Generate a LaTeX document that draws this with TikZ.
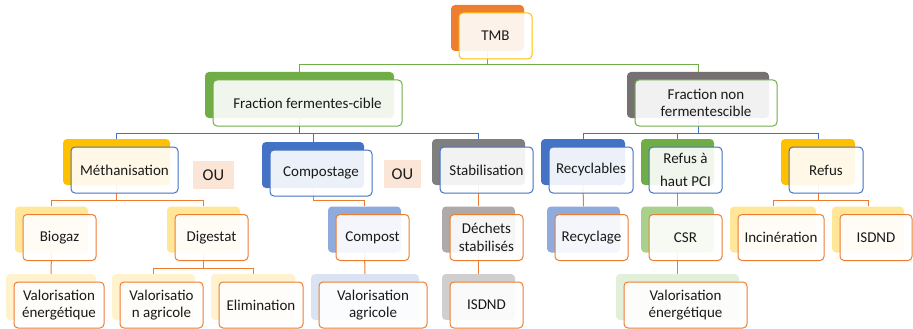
\documentclass[tikz,border=0pt]{standalone}
\usepackage{fontspec}
\setmainfont{Carlito}
\usepackage{xcolor}
\usepackage{tikz}
\usetikzlibrary{backgrounds}
\definecolor{orangeback}{HTML}{ED7D31}
\definecolor{goldback}{HTML}{FFC000}
\definecolor{greenback}{HTML}{70AD47}
\definecolor{blueback}{HTML}{4472C4}
\definecolor{darkgrayback}{HTML}{767171}
\definecolor{grayback}{HTML}{7F7F7F}
\definecolor{midgrayback}{HTML}{AEAAAA}
\definecolor{lightgrayback}{HTML}{D0CECE}
\definecolor{paleyellow}{HTML}{FFE699}
\definecolor{paleryellow}{HTML}{FFF2CC}
\definecolor{paleblue}{HTML}{8FAADC}
\definecolor{palerblue}{HTML}{DAE3F3}
\definecolor{palegreen}{HTML}{A9D18E}
\definecolor{palergreen}{HTML}{E2F0D9}
\definecolor{oucolor}{HTML}{FBE5D6}
\definecolor{labeltext}{HTML}{1A1A1A}

\tikzset{
  backbox/.style={rectangle, rounded corners=4pt, minimum height=46pt, inner sep=0pt},
  frontbox/.style={rectangle, rounded corners=4pt, minimum height=46pt, inner sep=1pt,
    fill=white, fill opacity=0.9, text opacity=1, text=labeltext, line width=1pt, align=center,
    font=\fontsize{15}{17.5}\selectfont},
  oubox/.style={rectangle, fill=oucolor, minimum height=28pt, inner sep=0pt, text=labeltext,
    font=\fontsize{16.5}{19}\selectfont},
  greenlink/.style={draw=greenback, line width=1pt},
  bluelink/.style={draw=blueback, line width=1pt},
  orangelink/.style={draw=orangeback, line width=1pt},
}

\begin{document}
\begin{tikzpicture}[x=1pt, y=-1pt]
\useasboundingbox (0,0) rectangle (913,329);
% level 1
\node[backbox, fill=orangeback, minimum width=73pt] (tmbb) at (487.5,28) {};
\node[frontbox, draw=goldback, minimum width=73pt] (tmb) at (495.5,36) {TMB};
% level 2
\node[backbox, fill=greenback, minimum width=189pt] (ffcb) at (299.5,95) {};
\node[frontbox, draw=greenback, minimum width=189pt] (ffc) at (307.5,103) {Fraction fermentes-cible};
\node[backbox, fill=darkgrayback, minimum width=142pt] (fnfb) at (698,95) {};
\node[frontbox, draw=greenback, minimum width=142pt] (fnf) at (706,103) {Fraction non\\fermentescible};
% level 3
\node[backbox, fill=goldback, minimum width=107pt] (methb) at (116.5,162) {};
\node[frontbox, draw=blueback, minimum width=107pt] (meth) at (124.5,170) {Méthanisation};
\node[backbox, fill=blueback, minimum width=102pt] (compb) at (313,165) {};
\node[frontbox, draw=blueback, minimum width=102pt] (comp) at (321,173) {Compostage};
\node[backbox, fill=grayback, minimum width=93pt] (stabb) at (478.5,162) {};
\node[frontbox, draw=blueback, minimum width=93pt] (stab) at (486.5,170) {Stabilisation};
\node[backbox, fill=blueback, minimum width=84pt] (recyb) at (583,162) {};
\node[frontbox, draw=blueback, minimum width=84pt] (recy) at (591,170) {Recyclables};
\node[backbox, fill=greenback, minimum width=73pt] (pcib) at (677.5,162) {};
\node[frontbox, draw=blueback, minimum width=73pt] (pci) at (685.5,170) {Refus à\\[6pt]haut PCI};
\node[backbox, fill=goldback, minimum width=74pt] (refusb) at (818,162) {};
\node[frontbox, draw=blueback, minimum width=74pt] (refus) at (826,170) {\raisebox{-3pt}{Refus}};
\node[oubox, minimum width=41pt] (oua) at (213.5,175) {OU};
\node[oubox, minimum width=37pt] (oub) at (402.5,174) {OU};
% level 4
\node[backbox, fill=paleyellow, minimum width=73pt] (biob) at (51.5,229.5) {};
\node[frontbox, draw=orangeback, minimum width=73pt] (bio) at (59.5,237.5) {Biogaz};
\node[backbox, fill=paleyellow, minimum width=73pt] (digb) at (203.5,229.5) {};
\node[frontbox, draw=orangeback, minimum width=73pt] (dig) at (211.5,237.5) {Digestat};
\node[backbox, fill=paleblue, minimum width=73pt] (compostb) at (364.5,229.5) {};
\node[frontbox, draw=orangeback, minimum width=73pt] (compost) at (372.5,237.5) {Compost};
\node[backbox, fill=midgrayback, minimum width=73pt] (dechb) at (478.5,229.5) {};
\node[frontbox, draw=orangeback, minimum width=73pt] (dech) at (486.5,237.5) {Déchets\\stabilisés};
\node[backbox, fill=paleblue, minimum width=73pt] (recycb) at (583.5,229.5) {};
\node[frontbox, draw=orangeback, minimum width=73pt] (recyc) at (591.5,237.5) {Recyclage};
\node[backbox, fill=palegreen, minimum width=73pt] (csrb) at (677.5,229.5) {};
\node[frontbox, draw=orangeback, minimum width=73pt] (csr) at (685.5,237.5) {CSR};
\node[backbox, fill=paleyellow, minimum width=86pt] (incib) at (773,229.5) {};
\node[frontbox, draw=orangeback, minimum width=86pt] (inci) at (781,237.5) {Incinération};
\node[backbox, fill=paleyellow, minimum width=72pt] (isdaob) at (868,229.5) {};
\node[frontbox, draw=orangeback, minimum width=72pt] (isdao) at (876,237.5) {ISDND};
% level 5
\node[backbox, fill=paleryellow, minimum width=90pt] (vaenab) at (51,297) {};
\node[frontbox, draw=orangeback, minimum width=90pt] (vaena) at (59,305) {Valorisation\\énergétique};
\node[backbox, fill=paleryellow, minimum width=83pt] (vagrab) at (153.5,297) {};
\node[frontbox, draw=orangeback, minimum width=83pt] (vagra) at (161.5,305) {Valorisatio\\n agricole};
\node[backbox, fill=paleryellow, minimum width=84pt] (elimb) at (253,297) {};
\node[frontbox, draw=orangeback, minimum width=84pt] (elim) at (261,305) {Elimination};
\node[backbox, fill=palerblue, minimum width=108pt] (vagrbb) at (365,297) {};
\node[frontbox, draw=orangeback, minimum width=108pt] (vagrb) at (373,305) {Valorisation\\agricole};
\node[backbox, fill=lightgrayback, minimum width=73pt] (isdbob) at (478.5,297) {};
\node[frontbox, draw=orangeback, minimum width=73pt] (isdbo) at (486.5,305) {ISDND};
\node[backbox, fill=palergreen, minimum width=123pt] (vaenbb) at (677.5,297) {};
\node[frontbox, draw=orangeback, minimum width=123pt] (vaenb) at (685.5,305) {Valorisation\\énergétique};
% connectors
\begin{scope}[on background layer]
\coordinate (busa) at (0,65);
\coordinate (busb) at (0,133);
\coordinate (busc) at (0,200);
\coordinate (busd) at (0,268);
\draw[greenlink] (tmbb.south) -- (tmbb.south |- busa) -| (ffcb.north);
\draw[greenlink] (tmbb.south) -- (tmbb.south |- busa) -| (fnfb.north);
\draw[bluelink] (ffcb.south) -- (ffcb.south |- busb) -| (methb.north);
\draw[bluelink] (ffcb.south) -- (ffcb.south |- busb) -| (compb.north);
\draw[bluelink] (ffcb.south) -- (ffcb.south |- busb) -| (stabb.north);
\draw[bluelink] (fnfb.south) -- (fnfb.south |- busb) -| (recyb.north);
\draw[bluelink] (fnfb.south) -- (fnfb.south |- busb) -| (pcib.north);
\draw[bluelink] (fnfb.south) -- (fnfb.south |- busb) -| (refusb.north);
\draw[orangelink] (methb.south) -- (methb.south |- busc) -| (biob.north);
\draw[orangelink] (methb.south) -- (methb.south |- busc) -| (digb.north);
\draw[orangelink] (compb.south) -- (compb.south |- busc) -| (compostb.north);
\draw[orangelink] (stabb.south) -- (dechb.north);
\draw[orangelink] (recyb.south) -- (recycb.north);
\draw[orangelink] (pcib.south) -- (csrb.north);
\draw[orangelink] (refusb.south) -- (refusb.south |- busc) -| (incib.north);
\draw[orangelink] (refusb.south) -- (refusb.south |- busc) -| (isdaob.north);
\draw[orangelink] (biob.south) -- (vaenab.north);
\draw[orangelink] (digb.south) -- (digb.south |- busd) -| (vagrab.north);
\draw[orangelink] (digb.south) -- (digb.south |- busd) -| (elimb.north);
\draw[orangelink] (compostb.south) -- (vagrbb.north);
\draw[orangelink] (dechb.south) -- (isdbob.north);
\draw[orangelink] (csrb.south) -- (vaenbb.north);
\end{scope}
\end{tikzpicture}
\end{document}
